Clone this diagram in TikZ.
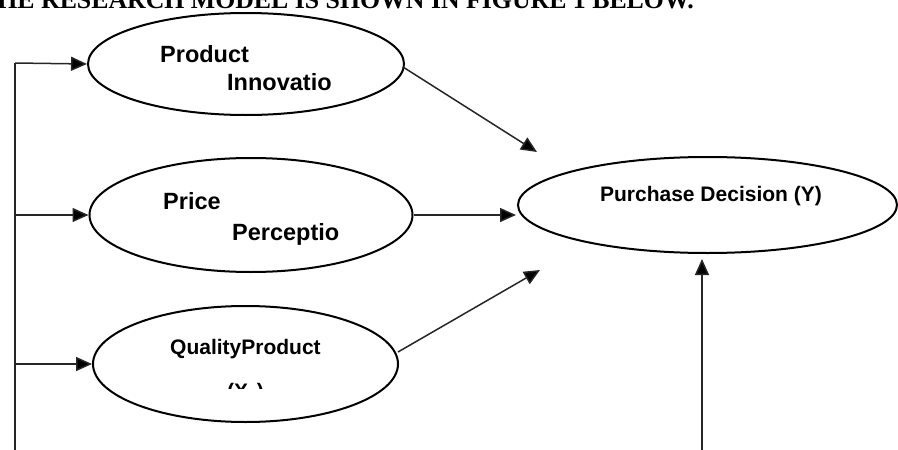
\documentclass[tikz,border=0pt]{standalone}
\usepackage{fontspec}
\setmainfont{Liberation Sans}
\newfontfamily\hdrfont{Liberation Serif}
\usetikzlibrary{arrows.meta,shapes.geometric}
\tikzset{
  oval/.style={ellipse,draw=black,line width=2pt,inner sep=0pt},
  lbl/.style={anchor=base west,inner sep=0pt,font=\bfseries\fontsize{23.5}{28}\selectfont},
  lbls/.style={anchor=base west,inner sep=0pt,font=\bfseries\fontsize{21}{25}\selectfont},
  conn/.style={draw=black!85,line width=1.5pt,-{Triangle[length=16pt,width=14pt,fill=black]}},
  plain/.style={draw=black!85,line width=1.5pt}
}
\begin{document}
\begin{tikzpicture}[x=1pt,y=-1pt]
\useasboundingbox (0,0) rectangle (898,450);
\clip (0,0) rectangle (898,450);
% header (cut off at the top)
\node[anchor=base west,inner sep=0pt,font=\hdrfont\bfseries\fontsize{25.8}{30}\selectfont] (hdr) at (-20,8) {THE RESEARCH MODEL IS SHOWN IN FIGURE 1 BELOW.};
% ellipses
\node[oval,minimum width=316pt,minimum height=102pt] (e1) at (246,64) {};
\node[oval,minimum width=323pt,minimum height=114pt] (e2) at (251,215) {};
\node[oval,minimum width=305pt,minimum height=116pt] (e3) at (245.5,364) {};
\node[oval,minimum width=379pt,minimum height=96pt] (y) at (707.5,205) {};
% labels
\node[lbl] (t1a) at (160,62) {Product};
\node[lbl] (t1b) at (227,90) {Innovatio};
\node[lbl] (t2a) at (163,209) {Price};
\node[lbl] (t2b) at (232,240) {Perceptio};
\node[lbls] (t3a) at (170,354) {QualityProduct};
\begin{scope}
\clip (200,382) rectangle (290,388.5);
\node[lbls] (t3b) at (227,398) {(X\textsubscript{3})};
\end{scope}
\node[lbls,anchor=base] (ty) at (711,201) {Purchase Decision (Y)};
% left feeder lines
\coordinate (lb) at (15,450);
\coordinate (l1) at (15,63);
\coordinate (l2) at (15,215);
\coordinate (l3) at (15,364);
\draw[plain] (lb) -- (l1);
\draw[conn] (l1) -- (e1.west);
\draw[conn] (l2) -- (e2.west);
\draw[conn] (l3) -- (e3.west);
% arrows to Y
\coordinate (a1s) at (403,67);
\coordinate (a1e) at (537,152);
\coordinate (a2e) at (516,215);
\coordinate (a3s) at (398,352);
\coordinate (a3e) at (540,270);
\coordinate (b0) at (702,450);
\coordinate (b1) at (702,259);
\draw[conn] (a1s) -- (a1e);
\draw[conn] (e2.east) -- (a2e);
\draw[conn] (a3s) -- (a3e);
\draw[conn] (b0) -- (b1);
\end{tikzpicture}
\end{document}
